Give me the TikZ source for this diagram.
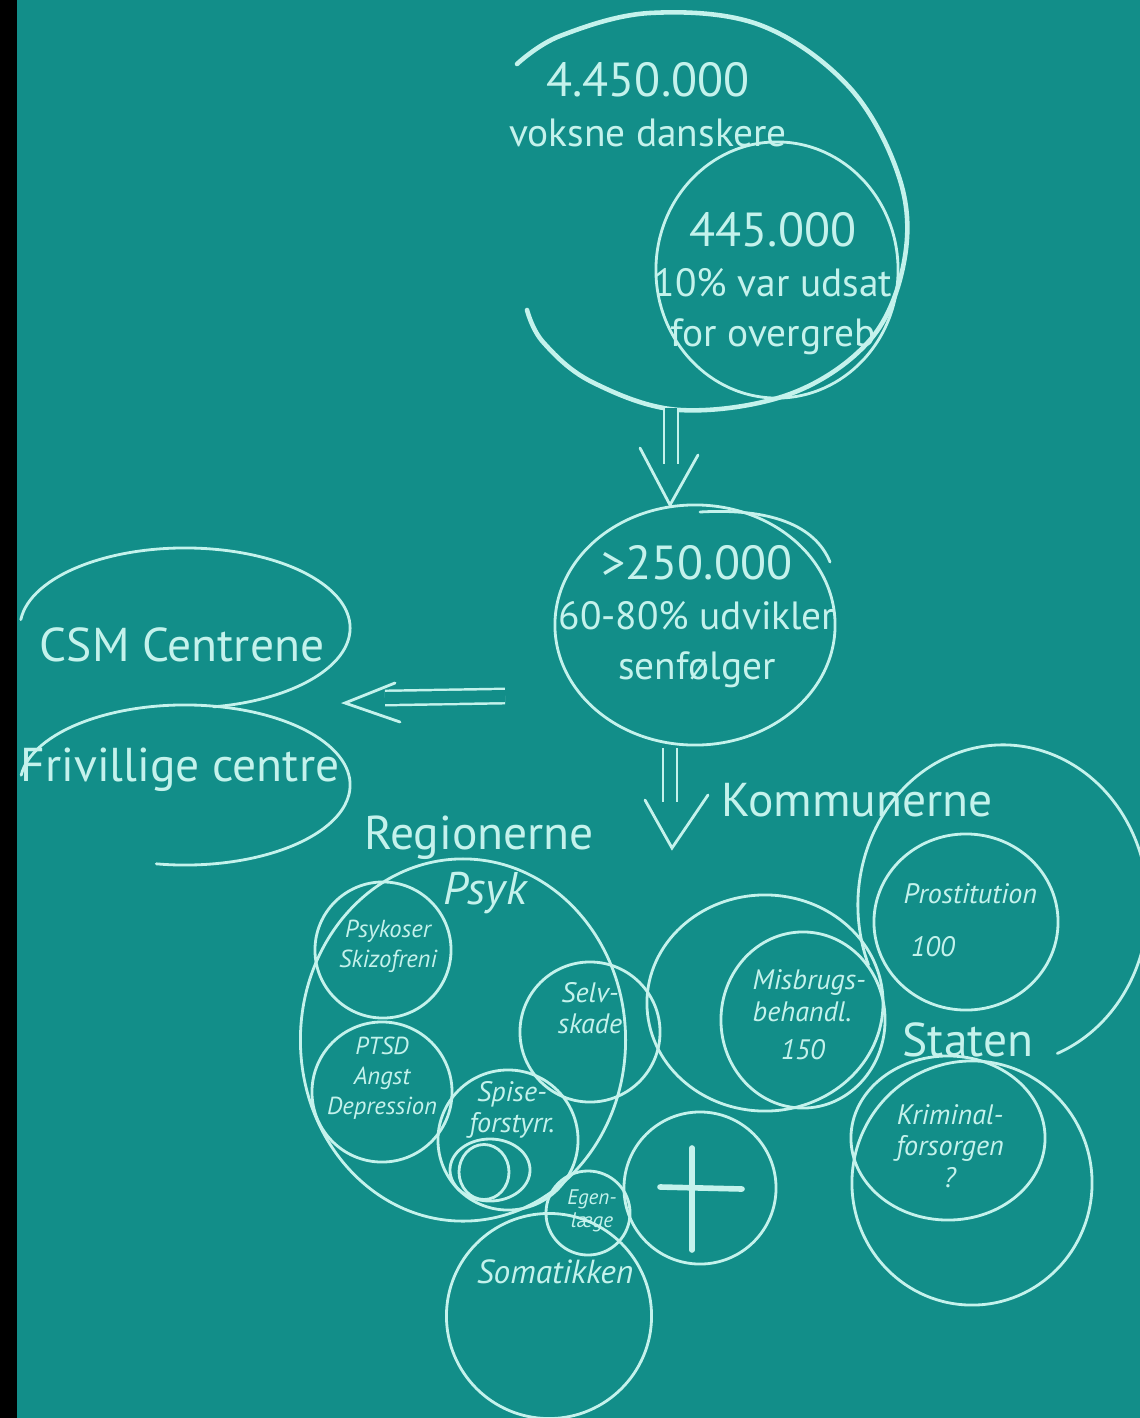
\documentclass[tikz,border=0pt]{standalone}
\usepackage{fontspec}
\setmainfont{PT Sans}
\usetikzlibrary{shapes.geometric}
\definecolor{board}{RGB}{18,142,137}
\definecolor{chalk}{RGB}{196,242,236}
\newcommand{\bignum}{\fontsize{13.6}{14.2}\selectfont}
\tikzset{
	sketch/.style={draw=chalk, line width=0.8pt, line cap=round},
	ring/.style={sketch, circle, inner sep=0pt},
	oval/.style={sketch, ellipse, inner sep=0pt},
	typed/.style={text=chalk, font=\fontsize{13.5}{14.2}\selectfont, align=center, inner sep=0pt},
	figures/.style={text=chalk, font=\fontsize{11.2}{14.2}\selectfont, align=center, inner sep=0pt},
	hand/.style={text=chalk, font=\fontsize{8}{9}\selectfont\itshape, align=center, inner sep=0pt},
	twin/.style={draw=chalk, line width=0.7pt, double=board, double distance=3.4pt},
}
\begin{document}
\begin{tikzpicture}[x=0.01cm, y=-0.01cm]
	%board
	\useasboundingbox (0,0) rectangle (1140,1418);
	\fill[black] (0,0) rectangle (17,1418);
	\fill[board] (17,0) rectangle (1140,1418);
	%
	%adults
	\draw[sketch, line width=1.3pt] plot[smooth, tension=0.6] coordinates {(517,64) (560,36) (650,13) (760,25) (850,88) (900,180) (904,262) (870,340) (790,394) (680,410) (592,382) (543,342) (527,310)};
	\node[figures] (adults) at (648,105) {{\bignum 4.450.000}\\voksne danskere};
	\node[oval, minimum width=2.42cm, minimum height=2.56cm] (abused) at (777,270) {};
	\node[figures] (abusedtext) at (773,284) {{\bignum 445.000}\\10\% var udsat\\for overgreb};
	%
	%down to later effects
	\coordinate (spiralbase) at (671,408);
	\coordinate (tipone) at (670,505);
	\draw[twin] (spiralbase) -- ++(0,56);
	\draw[sketch] ([shift={(-30,-57)}]tipone) -- (tipone) -- ++(28,-50);
	\node[oval, minimum width=2.8cm, minimum height=2.4cm] (later) at (695,625) {};
	\node[figures] (latertext) at (697,617) {{\bignum >250.000}\\60-80\% udvikler\\senfølger};
	\draw[sketch] (700,512) .. controls (770,508) and (815,525) .. (830,562);
	%
	%left centres
	\draw[sketch] (185,628) ++(174:1.65cm and 0.8cm) arc[start angle=174, end angle=-80, x radius=1.65cm, y radius=0.8cm];
	\draw[sketch] (185,785) ++(173:1.65cm and 0.8cm) arc[start angle=173, end angle=-100, x radius=1.65cm, y radius=0.8cm];
	\node[typed] (csm) at (182,645) {CSM Centrene};
	\node[typed] (frivillige) at (180,770) {Frivillige centre};
	\coordinate (leftstart) at (505,696);
	\coordinate (lefttip) at (345,703);
	\draw[twin] (leftstart) -- ++(-120,2);
	\draw[sketch] ([shift={(50,-20)}]lefttip) -- (lefttip) -- ++(55,19);
	%
	%down to the sectors
	\coordinate (laterbase) at (670,748);
	\coordinate (tiptwo) at (672,848);
	\draw[twin] (laterbase) -- ++(0,54);
	\draw[sketch] ([shift={(-27,-48)}]tiptwo) -- (tiptwo) -- ++(36,-53);
	\node[typed, anchor=west] (kommunerne) at (721,800) {Kommunerne};
	\node[typed] (regionerne) at (479,838) {Regionerne};
	\node[typed] (staten) at (968,1040) {Staten};
	%
	%regions
	\node[oval, minimum width=3.25cm, minimum height=3.62cm] (psyk) at (463,1040) {};
	\node[hand, font=\fontsize{13}{14}\selectfont\itshape] (psyktext) at (485,893) {Psyk};
	\node[ring, minimum size=1.36cm] (psykoser) at (383,950) {};
	\node[hand, font=\fontsize{7}{8.5}\selectfont\itshape] (psykosertext) at (388,946) {Psykoser\\Skizofreni};
	\node[ring, minimum size=1.4cm] (ptsd) at (382,1092) {};
	\node[hand, font=\fontsize{7}{8.5}\selectfont\itshape] (ptsdtext) at (382,1078) {PTSD\\Angst\\Depression};
	\node[ring, minimum size=1.4cm] (selv) at (590,1032) {};
	\node[hand] (selvtext) at (590,1008) {Selv-\\skade};
	\node[ring, minimum size=1.4cm] (spise) at (508,1140) {};
	\node[hand] (spisetext) at (512,1110) {Spise-\\forstyrr.};
	\node[oval, minimum width=0.8cm, minimum height=0.62cm] (spiseinner) at (490,1170) {};
	\node[oval, minimum width=0.5cm, minimum height=0.55cm] (spisecore) at (484,1172) {};
	\node[ring, minimum size=2.05cm] (soma) at (549,1316) {};
	\node[hand, font=\fontsize{9.5}{11}\selectfont\itshape] (somatext) at (555,1272) {Somatikken};
	\node[ring, minimum size=0.84cm] (egen) at (588,1213) {};
	\node[hand, font=\fontsize{6}{6.5}\selectfont\itshape] (egentext) at (592,1211) {Egen-\\læge};
	\node[ring, minimum size=1.52cm] (death) at (700,1188) {};
	\draw[sketch, line width=1.6pt] (692,1148) -- (692,1250);
	\draw[sketch, line width=1.6pt] (660,1187) -- (742,1189);
	%
	%municipalities
	\node[oval, minimum width=2.36cm, minimum height=2.16cm] (kommune) at (765,1003) {};
	\node[oval, minimum width=1.64cm, minimum height=1.76cm] (misbrug) at (803,1020) {};
	\node[hand, align=left, anchor=west] (misbrugtext) at (752,1015) {Misbrugs-\\behandl.\\[2pt]\hspace{8pt}150};
	\draw[sketch] (1003,905) ++(202:1.45cm and 1.6cm) arc[start angle=202, end angle=-68, x radius=1.45cm, y radius=1.6cm];
	\node[oval, minimum width=1.84cm, minimum height=1.76cm] (prost) at (966,922) {};
	\node[hand, align=left, anchor=west] (prosttext) at (903,920) {Prostitution\\[6pt]\hspace{2pt}100};
	%
	%state
	\node[oval, minimum width=2.4cm, minimum height=2.44cm] (stateouter) at (972,1183) {};
	\node[oval, minimum width=1.94cm, minimum height=1.64cm] (krim) at (948,1138) {};
	\node[hand] (krimtext) at (950,1146) {Kriminal-\\forsorgen\\?};
\end{tikzpicture}
\end{document}
